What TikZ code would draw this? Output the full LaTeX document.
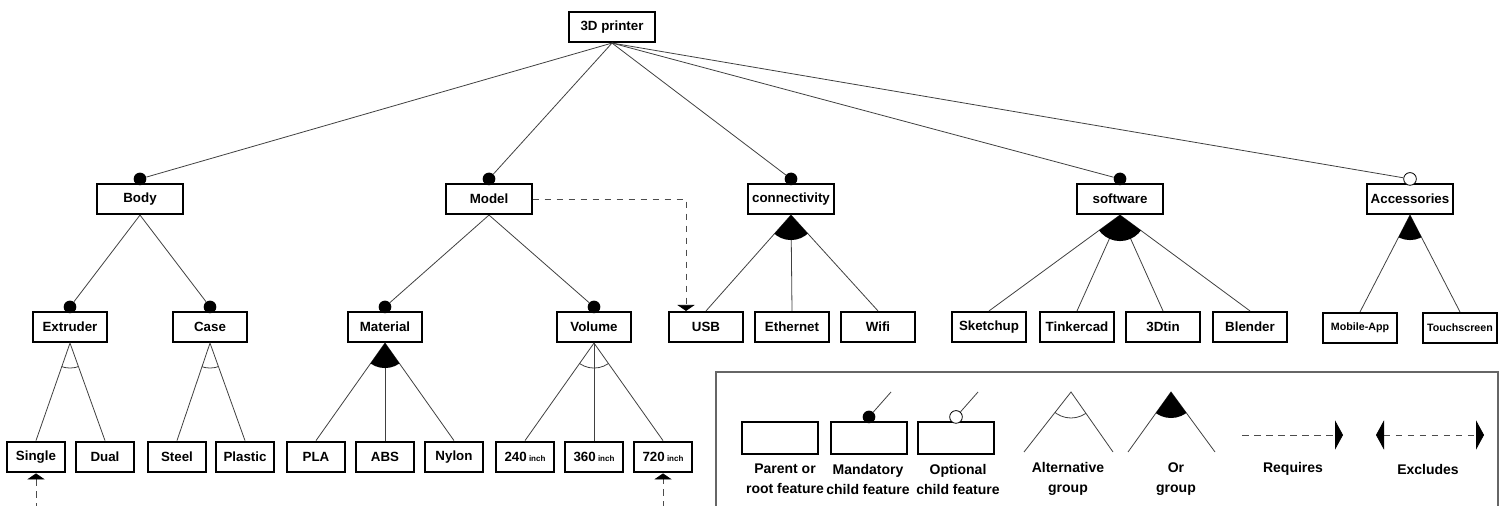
\documentclass[tikz,border=0pt]{standalone}
\usepackage{fontspec}
\setmainfont{Liberation Sans}
\usetikzlibrary{arrows.meta}

\tikzset{
  feat/.style={draw, line width=1.6pt, fill=white, inner sep=0pt, font=\bfseries\fontsize{10}{12}\selectfont, minimum height=22.5pt},
  topfeat/.style={feat, minimum width=64pt},
  subfeat/.style={feat, minimum width=56pt},
  smallfeat/.style={feat, minimum width=56pt, font=\bfseries\fontsize{8}{10}\selectfont},
  leaffeat/.style={feat, minimum width=43pt, minimum height=23pt},
  legbox/.style={draw, line width=1.6pt, minimum width=57pt, minimum height=24pt},
  legtext/.style={align=center, inner sep=0pt, font=\bfseries\fontsize{10.5}{15}\selectfont},
  edge/.style={line width=0.6pt, black!75},
  mand/.style={circle, fill=black, inner sep=0pt, minimum size=9.5pt},
  opt/.style={circle, draw=black, line width=0.6pt, fill=white, inner sep=0pt, minimum size=9.5pt},
  req/.style={line width=0.6pt, black!70, dash pattern=on 5pt off 4pt, -{Triangle[length=4.5pt,width=13pt,color=black]}},
  excl/.style={line width=0.6pt, black!70, dash pattern=on 5pt off 4pt, {Triangle[length=4.5pt,width=13pt,color=black]}-{Triangle[length=4.5pt,width=13pt,color=black]}},
  bigtip/.style={-{Triangle[length=6pt,width=22pt,color=black]}},
  bigtips/.style={{Triangle[length=6pt,width=22pt,color=black]}-{Triangle[length=6pt,width=22pt,color=black]}},
}
\newcommand{\inch}{\,{\fontsize{6}{7}\selectfont inch}}

\begin{document}
\begin{tikzpicture}[x=0.75pt,y=0.75pt,yscale=-1,xscale=1]
    \useasboundingbox (0,0) rectangle (1508,506);

    % Root
    \node[topfeat] (printer) at (612,27) {3D printer};

    % First level
    \node[topfeat] (body) at (140,199) {Body};
    \node[topfeat] (model) at (489,199) {Model};
    \node[topfeat] (conn) at (791,199) {connectivity};
    \node[topfeat] (soft) at (1120,199) {software};
    \node[topfeat] (acc) at (1410,199) {Accessories};

    % Second level
    \node[subfeat] (extruder) at (70,327) {Extruder};
    \node[subfeat] (case) at (210,327) {Case};
    \node[subfeat] (material) at (385,327) {Material};
    \node[subfeat] (volume) at (594,327) {Volume};
    \node[subfeat] (usb) at (706,327) {USB};
    \node[subfeat] (eth) at (792,327) {Ethernet};
    \node[subfeat] (wifi) at (878,327) {Wifi};
    \node[subfeat] (sketchup) at (989,327) {Sketchup};
    \node[subfeat] (tinkercad) at (1077,327) {Tinkercad};
    \node[subfeat] (tdtin) at (1163,327) {3Dtin};
    \node[subfeat] (blender) at (1250,327) {Blender};
    \node[smallfeat] (mobile) at (1360,328) {Mobile-App};
    \node[smallfeat] (touch) at (1460,328) {Touchscreen};

    % Third level
    \node[leaffeat] (single) at (36,457) {Single};
    \node[leaffeat] (dual) at (105,457) {Dual};
    \node[leaffeat] (steel) at (177,457) {Steel};
    \node[leaffeat] (plastic) at (245,457) {Plastic};
    \node[leaffeat] (pla) at (316,457) {PLA};
    \node[leaffeat] (abs) at (385,457) {ABS};
    \node[leaffeat] (nylon) at (454,457) {Nylon};
    \node[leaffeat] (v240) at (525,457) {240\inch};
    \node[leaffeat] (v360) at (594,457) {360\inch};
    \node[leaffeat] (v720) at (663,457) {720\inch};

    % Mandatory / optional markers
    \node[mand] (bodyc) at ([yshift=-3pt]body.north) {};
    \node[mand] (modelc) at ([yshift=-3pt]model.north) {};
    \node[mand] (connc) at ([yshift=-3pt]conn.north) {};
    \node[mand] (softc) at ([yshift=-3pt]soft.north) {};
    \node[opt] (accc) at ([yshift=-3pt]acc.north) {};
    \node[mand] (extruderc) at ([yshift=-3pt]extruder.north) {};
    \node[mand] (casec) at ([yshift=-3pt]case.north) {};
    \node[mand] (materialc) at ([yshift=-3pt]material.north) {};
    \node[mand] (volumec) at ([yshift=-3pt]volume.north) {};

    % Edges from the root
    \draw[edge] (printer.south) -- (bodyc);
    \draw[edge] (printer.south) -- (modelc);
    \draw[edge] (printer.south) -- (connc);
    \draw[edge] (printer.south) -- (softc);
    \draw[edge] (printer.south) -- (accc);

    % Edges of Body and Model
    \draw[edge] (body.south) -- (extruderc);
    \draw[edge] (body.south) -- (casec);
    \draw[edge] (model.south) -- (materialc);
    \draw[edge] (model.south) -- (volumec);

    % Group edges
    \draw[edge] (single.north) -- (extruder.south) -- (dual.north);
    \draw[edge] (steel.north) -- (case.south) -- (plastic.north);
    \draw[edge] (pla.north) -- (material.south) -- (nylon.north);
    \draw[edge] (material.south) -- (abs.north);
    \draw[edge] (v240.north) -- (volume.south) -- (v720.north);
    \draw[edge] (volume.south) -- (v360.north);
    \draw[edge] (usb.north) -- (conn.south) -- (wifi.north);
    \draw[edge] (conn.south) -- (eth.north);
    \draw[edge] (sketchup.north) -- (soft.south) -- (blender.north);
    \draw[edge] (soft.south) -- (tinkercad.north);
    \draw[edge] (soft.south) -- (tdtin.north);
    \draw[edge] (mobile.north) -- (acc.south) -- (touch.north);

    % Alternative groups
    \begin{scope}
      \clip (extruder.south) -- (single.north) -- (dual.north) -- cycle;
      \draw[edge] (extruder.south) circle[radius=25];
    \end{scope}
    \begin{scope}
      \clip (case.south) -- (steel.north) -- (plastic.north) -- cycle;
      \draw[edge] (case.south) circle[radius=25];
    \end{scope}
    \begin{scope}
      \clip (volume.south) -- (v240.north) -- (v720.north) -- cycle;
      \draw[edge] (volume.south) circle[radius=25];
    \end{scope}

    % Or groups
    \begin{scope}
      \clip (material.south) -- (pla.north) -- (nylon.north) -- cycle;
      \fill (material.south) circle[radius=25];
    \end{scope}
    \begin{scope}
      \clip (conn.south) -- (usb.north) -- (wifi.north) -- cycle;
      \fill (conn.south) circle[radius=25];
    \end{scope}
    \begin{scope}
      \clip (soft.south) -- (sketchup.north) -- (blender.north) -- cycle;
      \fill (soft.south) circle[radius=26];
    \end{scope}
    \begin{scope}
      \clip (acc.south) -- (mobile.north) -- (touch.north) -- cycle;
      \fill (acc.south) circle[radius=25];
    \end{scope}

    % Cross-tree constraints
    \draw[req] (model.east) -| ([xshift=-15pt]usb.north);
    \coordinate (exlow) at (350,540);
    \draw[excl] (single.south) -- (single.south |- exlow) -- (v720.south |- exlow) -- (v720.south);

    % Legend
    \draw[line width=1.2pt, black!60] (716,520) -- (716,372) -- (1498,372) -- (1498,520);

    \node[legbox] (lparent) at (780,438) {};
    \node[legbox] (lmand) at (869,438) {};
    \node[legbox] (lopt) at (956,438) {};
    \node[mand] (lmandc) at ([yshift=-3pt]lmand.north) {};
    \node[opt] (loptc) at ([yshift=-3pt]lopt.north) {};
    \coordinate (lmandend) at (891,392);
    \coordinate (loptend) at (978,392);
    \draw[edge] (lmandc) -- (lmandend);
    \draw[edge] (loptc) -- (loptend);

    \coordinate (altA) at (1071,392);
    \coordinate (altL) at (1024,452);
    \coordinate (altR) at (1113,452);
    \draw[edge] (altL) -- (altA) -- (altR);
    \begin{scope}
      \clip (altA) -- (altL) -- (altR) -- cycle;
      \draw[edge] (altA) circle[radius=26];
    \end{scope}

    \coordinate (orA) at (1171,392);
    \coordinate (orL) at (1128,452);
    \coordinate (orR) at (1215,452);
    \draw[edge] (orL) -- (orA) -- (orR);
    \begin{scope}
      \clip (orA) -- (orL) -- (orR) -- cycle;
      \fill (orA) circle[radius=26];
    \end{scope}

    \coordinate (reqS) at (1242,435);
    \coordinate (reqE) at (1343,435);
    \draw[req, bigtip] (reqS) -- (reqE);
    \coordinate (exS) at (1376,435);
    \coordinate (exE) at (1484,435);
    \draw[excl, bigtips] (exS) -- (exE);

    \node[legtext] (tparent) at (785,479) {Parent or\\root feature};
    \node[legtext] (tmand) at (868,479) {Mandatory\\child feature};
    \node[legtext] (topt) at (958,479) {Optional\\child feature};
    \node[legtext] (talt) at (1068,479) {Alternative\\group};
    \node[legtext] (tor) at (1176,479) {Or\\group};
    \node[legtext] (treq) at (1293,469) {Requires};
    \node[legtext] (texcl) at (1428,469) {Excludes};

\end{tikzpicture}
\end{document}
